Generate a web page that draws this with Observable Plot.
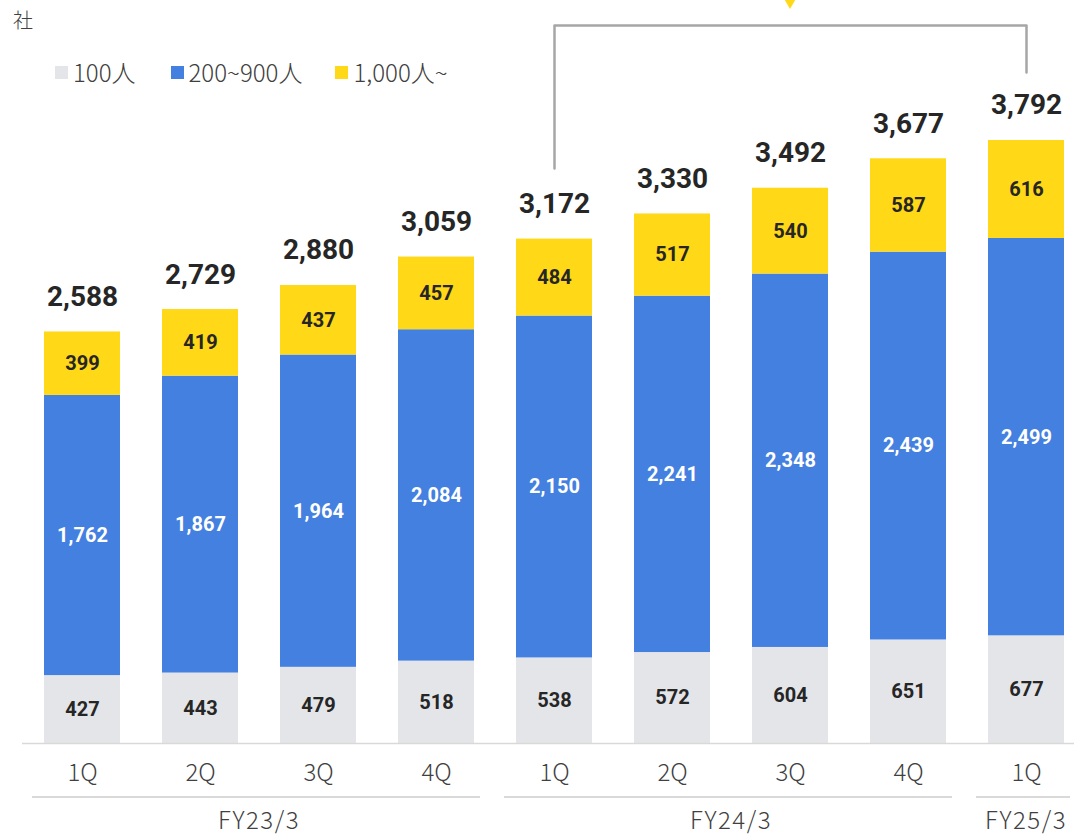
<!DOCTYPE html>
<html>
<head>
<meta charset="utf-8">
<script src="https://cdn.jsdelivr.net/npm/d3@7"></script>
<script src="https://cdn.jsdelivr.net/npm/@observablehq/plot@0.6"></script>
<style>
  html, body { margin: 0; padding: 0; background: #fff; }
  #wrap { position: relative; width: 1074px; height: 836px; overflow: hidden; }
  .jp { font-family: "Noto Sans CJK JP", "Noto Sans", sans-serif; font-weight: 300; color: #404040; }
  #unit { position: absolute; left: 13px; top: 6px; font-size: 20px; line-height: 28px; }
  #legend { position: absolute; left: 55px; top: 56px; font-size: 24px; line-height: 32px; display: flex; }
  .item { display: flex; align-items: center; }
  .sw { width: 13px; height: 13px; margin-right: 5px; display: inline-block; }
</style>
</head>
<body>
<div id="wrap">
  <div id="unit" class="jp">社</div>
  <div id="legend" class="jp"></div>
</div>
<script>
// ---- data ----
const quarters = ["1Q", "2Q", "3Q", "4Q", "1Q", "2Q", "3Q", "4Q", "1Q"];
const fiscalYears = ["FY23/3", "FY23/3", "FY23/3", "FY23/3", "FY24/3", "FY24/3", "FY24/3", "FY24/3", "FY25/3"];
const seriesNames = ["100人", "200~900人", "1,000人~"];
const seriesColors = ["#E4E5E9", "#4480E0", "#FFD817"];
const small = [427, 443, 479, 518, 538, 572, 604, 651, 677];
const mid = [1762, 1867, 1964, 2084, 2150, 2241, 2348, 2439, 2499];
const large = [399, 419, 437, 457, 484, 517, 540, 587, 616];
const totals = [2588, 2729, 2880, 3059, 3172, 3330, 3492, 3677, 3792];
// bracket annotation levels (data units)
const bracketLevels = { leftBottom: 3616, top: 4515, rightBottom: 4220, marker: 4672 };

// ---- build table ----
const keys = quarters.map((q, i) => fiscalYears[i] + " " + q);
const seriesValues = [small, mid, large];
const rows = [];
keys.forEach((k, i) => {
  let base = 0;
  seriesValues.forEach((vals, s) => {
    const v = vals[i];
    rows.push({ key: k, series: seriesNames[s], value: v, y1: base, y2: base + v, ym: base + v / 2, s });
    base += v;
  });
});
const totalRows = keys.map((k, i) => ({ key: k, total: totals[i] }));
const keyToQuarter = new Map(keys.map((k, i) => [k, quarters[i]]));

const bracket = [
  { key: keys[4], v: bracketLevels.leftBottom },
  { key: keys[4], v: bracketLevels.top },
  { key: keys[8], v: bracketLevels.top },
  { key: keys[8], v: bracketLevels.rightBottom }
];

const numFont = "Roboto, 'Liberation Sans', sans-serif";
const jpFont = "'Noto Sans CJK JP', sans-serif";

const plot = Plot.plot({
  width: 1074,
  height: 836,
  marginLeft: 22,
  marginRight: 0,
  marginTop: 0,
  marginBottom: 93,
  style: { background: "transparent", overflow: "visible" },
  x: { domain: keys, range: [23, 1085], paddingInner: 0.356, paddingOuter: 0.178, align: 0.5, label: null, axis: null },
  y: { domain: [0, 3792], range: [743, 140], label: null, axis: null },
  color: { domain: seriesNames, range: seriesColors },
  marks: [
    Plot.barY(rows, { x: "key", y1: "y1", y2: "y2", fill: "series" }),
    Plot.ruleY([0], { stroke: "#d9d9d9", strokeWidth: 1.5 }),
    Plot.text(rows, {
      x: "key", y: "ym", text: d => d3.format(",")(d.value),
      fill: d => d.s === 1 ? "#ffffff" : "#262626",
      fontSize: 20, fontWeight: "bold", fontFamily: numFont
    }),
    Plot.text(totalRows, {
      x: "key", y: "total", text: d => d3.format(",")(d.total),
      dy: -35, fill: "#262626", fontSize: 28, fontWeight: "bold", fontFamily: numFont
    }),
    Plot.line(bracket, { x: "key", y: "v", stroke: "#A6A6A6", strokeWidth: 2.5 }),
    Plot.axisX({
      tickSize: 0, tickPadding: 20, fontSize: 24, label: null,
      tickFormat: k => keyToQuarter.get(k),
      fontFamily: jpFont, fontWeight: 300, fill: "#404040"
    })
  ]
});

document.getElementById("wrap").appendChild(plot);
plot.style.position = "absolute";
plot.style.left = "0px";
plot.style.top = "0px";

// ---- annotations via the plot's scales ----
const xs = plot.scale("x");
const ys = plot.scale("y");
const bw = xs.bandwidth;
const svg = d3.select(plot);
const groups = d3.groups(keys.map((k, i) => ({ k, fy: fiscalYears[i] })), d => d.fy);
groups.forEach(([fy, arr]) => {
  const first = xs.apply(arr[0].k);
  const last = xs.apply(arr[arr.length - 1].k) + bw;
  const x1 = first - 12, x2 = last + 6;
  svg.append("line")
    .attr("x1", x1).attr("x2", x2).attr("y1", 797).attr("y2", 797)
    .attr("stroke", "#cccccc").attr("stroke-width", 1.5);
  svg.append("text")
    .attr("x", (first + last) / 2).attr("y", 829)
    .attr("text-anchor", "middle")
    .attr("font-family", jpFont).attr("font-weight", 300)
    .attr("letter-spacing", "1.5px")
    .attr("font-size", 24).attr("fill", "#404040").text(fy);
});
// marker triangle
const mx = xs.apply(keys[6]) + bw / 2;
const my = ys.apply(bracketLevels.marker);
svg.append("path")
  .attr("d", `M${mx - 8},${my - 5}L${mx + 8},${my - 5}L${mx},${my + 9}Z`)
  .attr("fill", "#FFD817");

// ---- legend ----
const legend = document.getElementById("legend");
const gaps = [35, 33, 0];
seriesNames.forEach((n, i) => {
  const it = document.createElement("div");
  it.className = "item";
  it.style.marginRight = gaps[i] + "px";
  it.innerHTML = `<span class="sw" style="background:${seriesColors[i]}"></span><span>${n}</span>`;
  legend.appendChild(it);
});
</script>
</body>
</html>
